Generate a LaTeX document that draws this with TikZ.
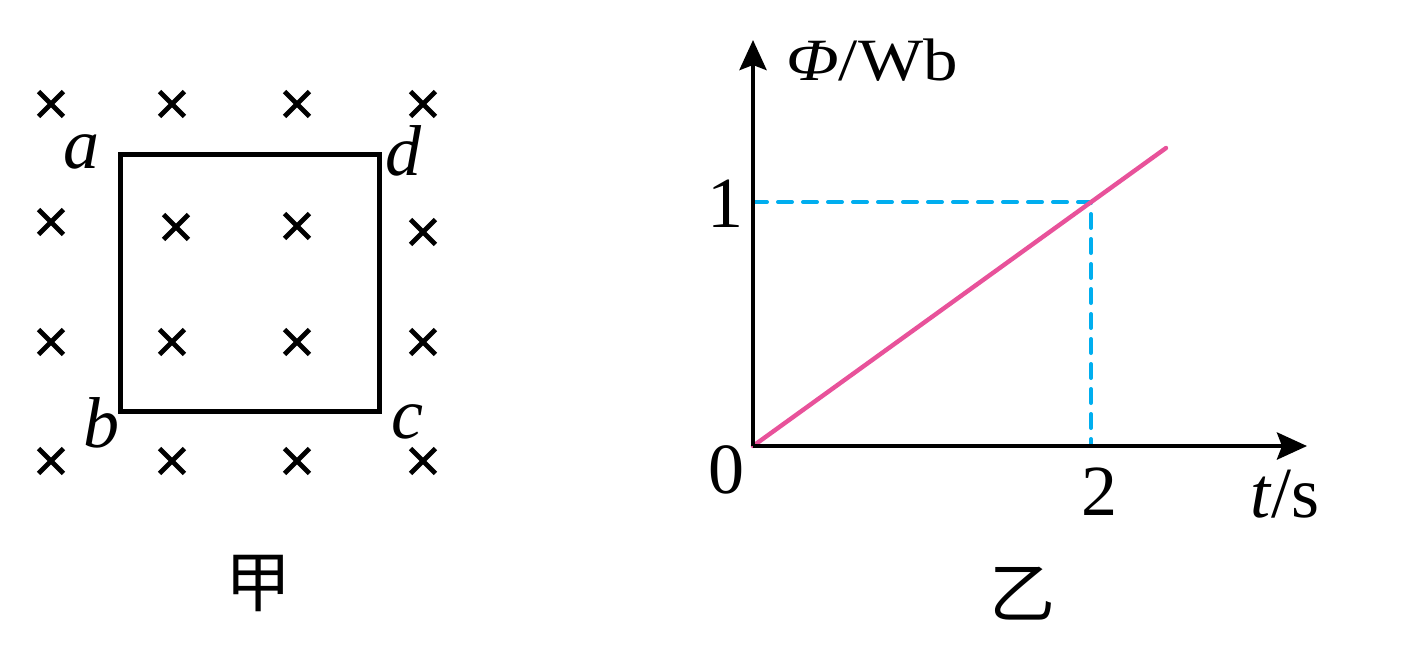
\documentclass[tikz,border=0pt]{standalone}
\usepackage{fontspec}
\setmainfont{Liberation Serif}
\newfontfamily\cjk{Noto Sans CJK SC}
\usetikzlibrary{arrows.meta,shapes.misc}
\definecolor{fluxpink}{HTML}{E8529A}
\definecolor{guideblue}{HTML}{00AEEF}

\begin{document}
\begin{tikzpicture}[
  x=0.5pt, y=-0.5pt,
  field/.style={cross out, draw, line width=2.4pt, minimum size=10pt, inner sep=0pt},
  wire/.style={line width=2.5pt},
  corner/.style={anchor=base, inner sep=0pt, font=\fontsize{36}{36}\selectfont\itshape},
  num/.style={anchor=base, inner sep=0pt, font=\fontsize{36}{36}\selectfont},
  caption/.style={inner sep=0pt, font=\cjk\fontsize{33}{33}\selectfont},
  axis/.style={-{Stealth[length=15pt, width=13.5pt, inset=2.5pt]}, line width=2.2pt},
  guide/.style={draw=guideblue, line width=2pt, line cap=round, dash pattern=on 7pt off 5.5pt},
  graph/.style={draw=fluxpink, line width=2.2pt, line cap=round}
]
\useasboundingbox (0,0) rectangle (1427,650);
\foreach \x in {51,172,297,423} {
  \node[field] (top\x) at (\x,104) {};
  \node[field] (bot\x) at (\x,461) {};
}
\node[field] (l1) at (51,222) {};
\node[field] (l2) at (51,342) {};
\node[field] (i1) at (176,227) {};
\node[field] (i2) at (297,226) {};
\node[field] (i3) at (172,342) {};
\node[field] (i4) at (297,342) {};
\node[field] (r1) at (423,232) {};
\node[field] (r2) at (423,342) {};
\coordinate (a) at (120.5,154);
\coordinate (d) at (379.5,154);
\coordinate (c) at (379.5,411);
\coordinate (b) at (120.5,411);
\draw[wire] (a) -- (d) -- (c) -- (b) -- cycle;
\node[corner] (la) at (81,168) {a};
\node[corner] (ld) at (403,175) {d};
\node[corner] (lb) at (101,447) {b};
\node[corner] (lc) at (407,438) {c};
\node[caption] (jia) at (258,583) {甲};
\coordinate (O) at (753,446);
\coordinate (ytip) at (753,40);
\coordinate (xtip) at (1307,446);
\coordinate (p) at (1091,202);
\coordinate (e) at (1166,148);
\draw[guide] (O |- p) -- (p) -- (p |- O);
\draw[graph] (O) -- (e);
\draw[axis] (O) -- (ytip);
\draw[axis] (O) -- (xtip);
\node[num] (one) at (725,227) {1};
\node[num] (zero) at (726,493) {0};
\node[num] (two) at (1099,515) {2};
\node[num] (ts) at (1285,517) {\textit{t}/s};
\node[num] (phi) at (872,80) {\scalebox{1.15}[1]{\fontsize{30}{30}\selectfont\textit{Φ}/Wb}};
\node[caption] (yi) at (1022,594) {乙};
\end{tikzpicture}
\end{document}
